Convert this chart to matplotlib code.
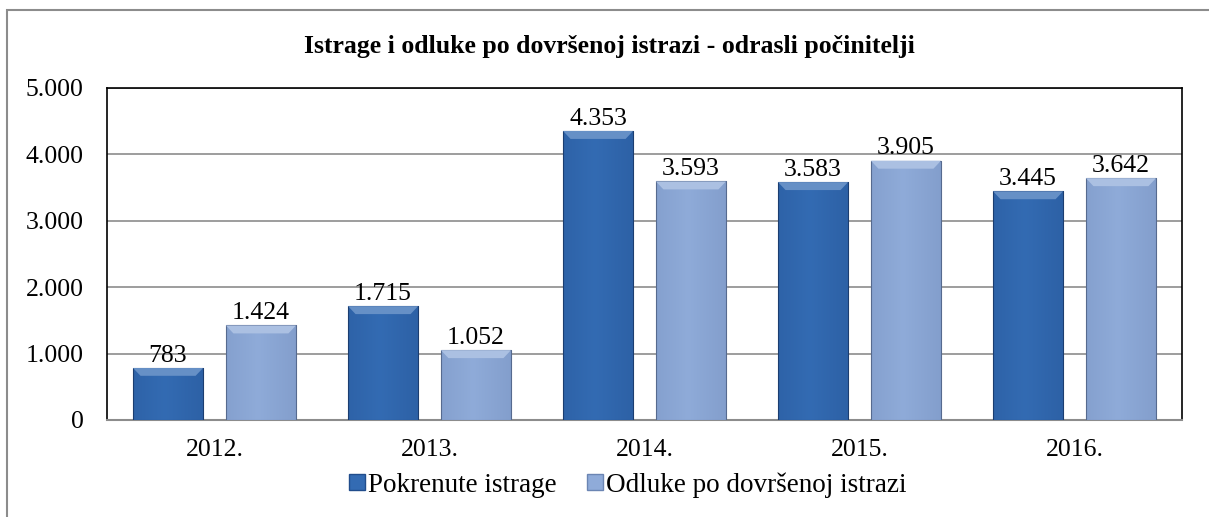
import numpy as np
import matplotlib.pyplot as plt
from matplotlib.patches import Rectangle
from matplotlib.lines import Line2D

years = ['2012.', '2013.', '2014.', '2015.', '2016.']
pokrenute = [783, 1715, 4353, 3583, 3445]
odluke = [1424, 1052, 3593, 3905, 3642]
series_names = ['Pokrenute istrage', 'Odluke po dovršenoj istrazi']

plt.rcParams['font.family'] = ['Liberation Serif', 'DejaVu Serif']
FS = 18.5

fig = plt.figure(figsize=(12.09, 5.17), dpi=100)
ax = fig.add_axes([107 / 1209, 1 - 420 / 517, (1182 - 107) / 1209, (420 - 88) / 517])

# outer chart border
fig.patches.append(Rectangle((7 / 1209, -0.01), 1.0, 1 - 10 / 517 + 0.01,
                             transform=fig.transFigure, fill=False,
                             edgecolor='#8c8c8c', linewidth=1.5))

x = np.arange(len(years))
w = 0.326
off = 0.216


def shaded_bar(ax, xc, h, base, dark):
    # horizontal gradient with a lighter top bevel
    left = xc - w / 2
    grad = np.linspace(0, 1, 64)
    shade = 1 - 0.3 * np.abs(grad - 0.45) * 2
    base = np.array(base)
    dark = np.array(dark)
    img = (dark[None, :] + (base - dark)[None, :] * shade[:, None])[None, :, :]
    im = ax.imshow(img, extent=[left, left + w, 0, h], aspect='auto',
                   zorder=3, interpolation='bilinear')
    r = Rectangle((left, 0), w, h, fill=False, edgecolor=tuple(dark * 0.8),
                  linewidth=0.8, zorder=4)
    ax.add_patch(r)
    im.set_clip_path(r)
    # bevel top
    bev = min(120, h * 0.15)
    top = base + (1 - base) * 0.25
    ax.fill([left, left + w, left + w - 0.035, left + 0.035],
            [h, h, h - bev, h - bev], color=tuple(top), zorder=4, lw=0)


dark_c = (0.20, 0.42, 0.70)
dark_d = (0.13, 0.30, 0.55)
light_c = (0.56, 0.67, 0.85)
light_d = (0.42, 0.52, 0.70)

for i in range(len(years)):
    shaded_bar(ax, x[i] - off, pokrenute[i], dark_c, dark_d)
    shaded_bar(ax, x[i] + off, odluke[i], light_c, light_d)
    ax.text(x[i] - off, pokrenute[i] + 20, f"{pokrenute[i]:,}".replace(',', '.'),
            ha='center', va='bottom', fontsize=FS)
    ax.text(x[i] + off, odluke[i] + 20, f"{odluke[i]:,}".replace(',', '.'),
            ha='center', va='bottom', fontsize=FS)

ax.set_xlim(-0.5, 4.5)
ax.set_ylim(0, 5000)
ax.set_yticks(range(0, 5001, 1000))
ax.set_yticklabels([f"{v:,}".replace(',', '.') for v in range(0, 5001, 1000)], fontsize=FS)
ax.set_xticks(x)
ax.set_xticklabels(years, fontsize=FS)
ax.tick_params(axis='y', length=0, pad=17)
ax.tick_params(axis='x', length=0, pad=14)
ax.yaxis.grid(True, color='#8c8c8c', linewidth=1.2)
ax.set_axisbelow(True)
for s in ['left', 'top', 'right']:
    ax.spines[s].set_color('black')
    ax.spines[s].set_linewidth(1.2)
ax.spines['bottom'].set_color('#8c8c8c')
ax.spines['bottom'].set_linewidth(1.5)

fig.text(0.504, 1 - 47 / 517, 'Istrage i odluke po dovršenoj istrazi - odrasli počinitelji',
         ha='center', va='center', fontsize=18.5, fontweight='bold')

handles = [Line2D([], [], marker='s', linestyle='none', markersize=11,
                  markerfacecolor=dark_c, markeredgecolor=dark_d),
           Line2D([], [], marker='s', linestyle='none', markersize=11,
                  markerfacecolor=light_c, markeredgecolor=light_d)]
fig.legend(handles, series_names, loc='center', bbox_to_anchor=(0.518, 1 - 485 / 517),
           ncol=2, frameon=False, fontsize=19.5, handletextpad=0.0,
           columnspacing=1.0, handlelength=0.8)

fig.savefig('out.png', dpi=100)
